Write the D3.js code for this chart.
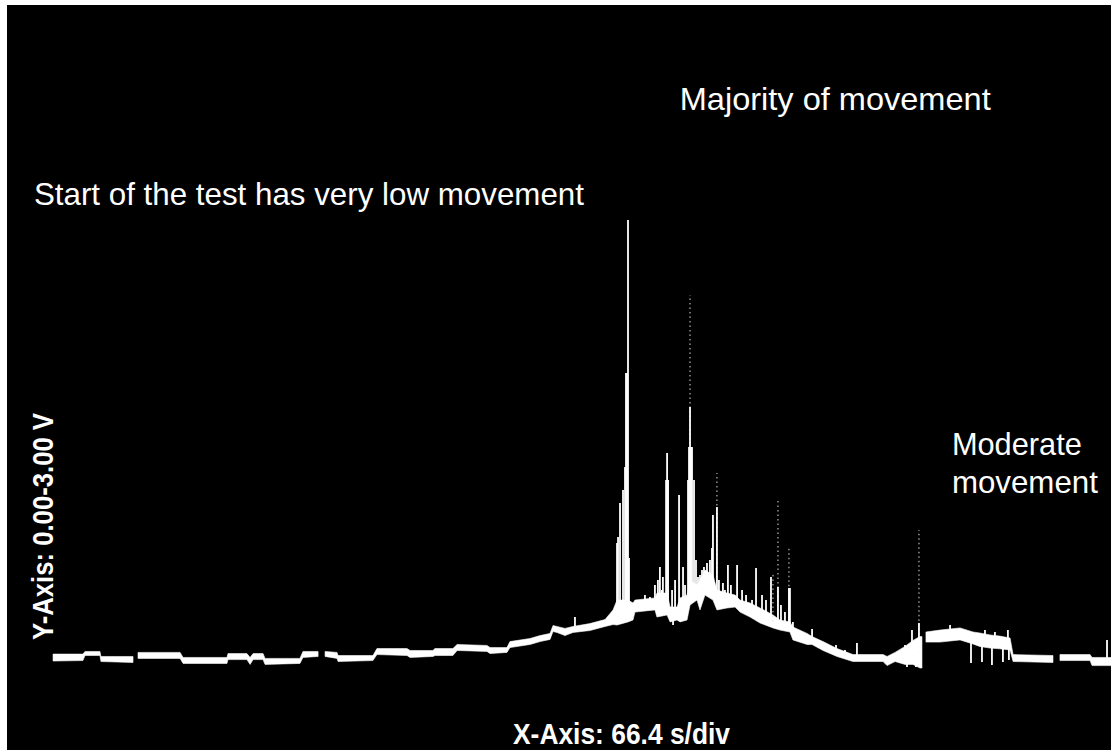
<!DOCTYPE html>
<html>
<head>
<meta charset="utf-8">
<script src="https://cdn.jsdelivr.net/npm/d3@7"></script>
<style>
  html, body { margin: 0; padding: 0; background: #ffffff; }
  svg { display: block; }
</style>
</head>
<body>
<svg id="chart" width="1111" height="750"></svg>
<script>
// ---- Data (time in s, voltage in V) ----
const traceTime = [27.7,45.7,46.9,55.9,56.5,75.8,77.0,78.8,104.1,105.9,132.3,132.9,144.3,146.2,148.0,154.0,155.2,176.2,178.0,187.1,189.0,191.3,198.5,199.1,220.1,222.5,240.6,242.4,256.2,257.4,268.2,270.7,288.7,290.5,300.7,302.5,314.6,320.6,326.6,328.4,330.8,335.6,340.4,350.6,359.7,364.5,366.9,373.5,376.5,377.7,389.7,390.9,397.0,398.8,403.0,404.8,409.0,410.8,415.0,416.8,419.8,424.6,427.0,433.0,437.9,440.9,446.9,452.9,460.7,464.9,470.9,472.7,481.2,484.2,490.8,499.2,508.8,526.9,529.3,534.1,540.1,544.9,549.1,550.3,551.5,552.7,561.2,573.2,581.0,585.0,591.2,597.0,603.3,605.1,629.1,631.0,633.3,651.4,652.6,664.0];
const traceLow  = [0.329,0.331,0.352,0.352,0.327,0.323,null,0.34,0.34,0.319,0.319,0.335,0.335,0.315,0.335,0.335,0.315,0.319,0.344,0.348,null,0.348,0.34,0.327,0.331,0.356,0.352,0.344,0.348,0.352,0.352,0.373,0.369,0.36,0.365,0.385,0.398,0.41,0.419,0.452,0.448,0.435,0.448,0.456,0.473,0.481,0.479,0.492,0.500,0.533,0.542,0.5125,0.521,0.492,0.500,0.492,0.500,0.5625,0.583,0.542,0.604,0.583,0.542,0.550,0.554,0.533,0.5125,0.4875,0.467,0.458,0.450,0.417,0.398,0.398,0.373,0.348,0.327,0.327,0.31,0.327,0.315,0.315,0.300,0.300,null,0.408,0.408,0.417,0.40,0.39,0.383,0.38,0.375,0.327,0.323,null,0.331,0.331,0.31,0.31];
const traceHigh = [0.358,0.358,0.369,0.369,0.348,0.348,null,0.365,0.365,0.344,0.344,0.36,0.36,0.344,0.36,0.36,0.34,0.34,0.369,0.369,null,0.369,0.365,0.352,0.352,0.381,0.381,0.373,0.373,0.381,0.381,0.398,0.394,0.385,0.385,0.41,0.423,0.435,0.444,0.477,0.473,0.465,0.473,0.485,0.502,0.542,0.583,0.583,0.571,0.583,0.592,0.6125,0.6125,0.554,0.554,0.592,0.604,0.667,0.646,0.667,0.708,0.688,0.625,0.6125,0.604,0.583,0.571,0.550,0.521,0.500,0.492,0.471,0.444,0.431,0.41,0.381,0.356,0.356,0.348,0.365,0.39,0.415,0.431,0.431,null,0.45,0.458,0.467,0.45,0.446,0.438,0.433,0.425,0.356,0.352,null,0.356,0.356,0.344,0.344];

// solid upward spikes (time, peak voltage)
const spikeTime = [341.6,366.9,367.5,368.7,370.5,371.7,372.3,372.9,373.5,374.1,383.7,386.7,389.7,391.5,392.7,393.9,394.5,396.4,397.0,397.6,400.0,401.8,404.2,406.6,407.8,409.6,410.2,410.8,411.4,412.0,413.2,414.4,415.6,416.8,418.0,419.2,421.0,422.8,424.0,424.6,427.0,428.2,430.6,431.8,433.6,435.4,439.1,442.1,444.5,448.1,450.5,454.1,456.5,459.5,463.7,465.5,467.9,470.3,470.9,472.7,484.2,487.8,498.6,504.0,511.2,540.1,544.3,548.5,567.2,588.2,594.2,602.0,661.6];
const spikeTop  = [0.5125,0.821,0.846,0.9875,1.042,1.1375,1.529,1.529,2.167,0.758,0.604,0.596,0.646,0.667,0.721,0.625,0.679,1.083,1.196,1.083,0.625,0.667,1.021,0.721,0.646,1.083,1.221,1.3875,1.221,1.221,1.083,0.75,0.679,0.688,0.708,0.721,0.7375,0.75,0.80,0.9375,0.971,0.667,0.654,0.625,0.729,0.646,0.729,0.625,0.604,0.583,0.717,0.604,0.583,0.679,0.6375,0.5625,0.533,0.633,0.633,0.492,0.4625,0.417,0.396,0.375,0.404,0.396,0.458,0.4875,0.479,0.458,0.45,0.458,0.417];

// solid downward dips (time, lowest voltage)
const dipTime = [400.6,541.3,546.7,579.8,586.4,592.4,599.0,602.6];
const dipLow  = [0.479,0.304,0.304,0.321,0.325,0.3125,0.325,0.333];

// faint (dotted) spike extensions
const faintTime = [410.8,427.0,460.7,463.7,470.3,548.5];
const faintTop  = [1.854,1.1125,0.688,1.008,0.804,0.875];

// annotations
const annotations = [
  {text: "Majority of movement", t: 404.6, v: 2.625, len: 311},
  {text: "Start of the test has very low movement", t: 16.2, v: 2.229, len: 550},
  {text: "Moderate", t: 568.3, v: 1.188, len: 130},
  {text: "movement", t: 568.3, v: 1.029, len: 146}
];
const xAxisLabel = "X-Axis: 66.4 s/div";
const yAxisLabel = "Y-Axis: 0.00-3.00 V";

// ---- Drawing ----
const svg = d3.select("#chart");
const screen = {left: 7, top: 5, right: 1111, bottom: 750};

const x = d3.scaleLinear().domain([0, 664]).range([7, 1111]);
const y = d3.scaleLinear().domain([0, 3]).range([740, 20]);

svg.append("rect")
  .attr("x", screen.left).attr("y", screen.top)
  .attr("width", screen.right - screen.left)
  .attr("height", screen.bottom - screen.top)
  .attr("fill", "#000");

const pts = traceTime.map((t, i) => ({t, lo: traceLow[i], hi: traceHigh[i]}));
const def = pts.filter(d => d.lo != null);
function baseAt(t) {
  const i = d3.bisector(d => d.t).left(def, t);
  const a = def[Math.max(0, i - 1)], b = def[Math.min(def.length - 1, i)];
  if (a === b || b.t === a.t) return (a.lo + a.hi) / 2;
  const k = (t - a.t) / (b.t - a.t);
  return ((a.lo + a.hi) / 2) * (1 - k) + ((b.lo + b.hi) / 2) * k;
}

const area = d3.area()
  .defined(d => d.lo != null)
  .x(d => x(d.t))
  .y0(d => y(d.lo))
  .y1(d => y(d.hi));

svg.append("path")
  .datum(pts)
  .attr("d", area)
  .attr("fill", "#fff")
  .attr("stroke", "#fff")
  .attr("stroke-width", 0.6)
  .attr("stroke-linejoin", "round");

svg.append("g").selectAll("line")
  .data(faintTime.map((t, i) => ({t, v: faintTop[i]})))
  .join("line")
  .attr("x1", d => x(d.t)).attr("x2", d => x(d.t))
  .attr("y1", d => y(baseAt(d.t))).attr("y2", d => y(d.v))
  .attr("stroke", "#ddd")
  .attr("stroke-width", 1)
  .attr("stroke-dasharray", "1.5,3");

svg.append("g").selectAll("line")
  .data(spikeTime.map((t, i) => ({t, v: spikeTop[i]})))
  .join("line")
  .attr("x1", d => x(d.t)).attr("x2", d => x(d.t))
  .attr("y1", d => y(baseAt(d.t))).attr("y2", d => y(d.v))
  .attr("stroke", "#fff")
  .attr("stroke-width", 1.8);

svg.append("g").selectAll("line")
  .data(dipTime.map((t, i) => ({t, v: dipLow[i]})))
  .join("line")
  .attr("x1", d => x(d.t)).attr("x2", d => x(d.t))
  .attr("y1", d => y(baseAt(d.t))).attr("y2", d => y(d.v))
  .attr("stroke", "#fff")
  .attr("stroke-width", 1.8);

svg.append("g").selectAll("text")
  .data(annotations)
  .join("text")
  .attr("x", d => x(d.t)).attr("y", d => y(d.v))
  .attr("fill", "#fff")
  .attr("font-family", "'Liberation Sans', Arial, Helvetica, sans-serif")
  .attr("font-size", 32)
  .attr("textLength", d => d.len)
  .attr("lengthAdjust", "spacingAndGlyphs")
  .text(d => d.text);

svg.append("text")
  .attr("x", 513).attr("y", 744)
  .attr("fill", "#fff")
  .attr("font-family", "'Liberation Sans', Arial, Helvetica, sans-serif")
  .attr("font-weight", "bold")
  .attr("font-size", 29)
  .attr("textLength", 217)
  .attr("lengthAdjust", "spacingAndGlyphs")
  .text(xAxisLabel);

svg.append("text")
  .attr("transform", "translate(53,640) rotate(-90)")
  .attr("fill", "#fff")
  .attr("font-family", "'Liberation Sans', Arial, Helvetica, sans-serif")
  .attr("font-weight", "bold")
  .attr("font-size", 30)
  .attr("textLength", 227)
  .attr("lengthAdjust", "spacingAndGlyphs")
  .text(yAxisLabel);
</script>
</body>
</html>
